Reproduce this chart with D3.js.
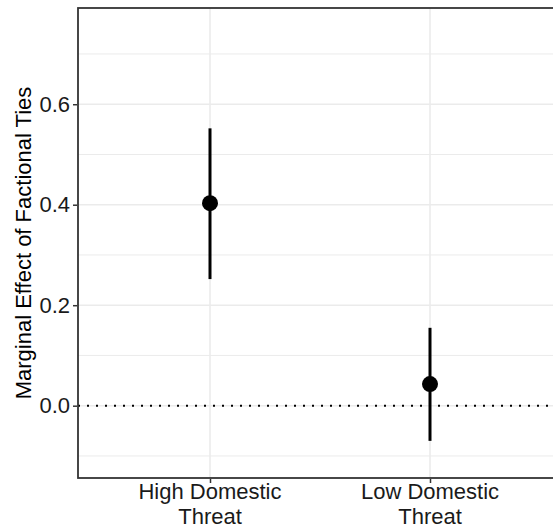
<!DOCTYPE html>
<html>
<head>
<meta charset="utf-8">
<script src="https://cdn.jsdelivr.net/npm/d3@7"></script>
<style>
  body { margin: 0; background: #fff; }
  svg text { font-family: "Liberation Sans", Arial, sans-serif; }
</style>
</head>
<body>
<svg id="chart" width="553" height="531"></svg>
<script>
// data
const categories = ['High Domestic Threat', 'Low Domestic Threat'];
const estimates = [0.403, 0.043];
const lower = [0.252, -0.070];
const upper = [0.552, 0.155];
const yTicks = [0.0, 0.2, 0.4, 0.6];
const yMinor = [-0.1, 0.1, 0.3, 0.5, 0.7];

const svg = d3.select('#chart');
const m = { left: 78, top: 8, right: 562, bottom: 478 };

const x = d3.scalePoint().domain(categories).range([210, 430]);
const y = d3.scaleLinear().domain([-0.1439, 0.7915]).range([m.bottom, m.top]);

const g = svg.append('g');

// panel background + grid
g.append('rect').attr('x', m.left).attr('y', m.top)
  .attr('width', m.right - m.left).attr('height', m.bottom - m.top).attr('fill', '#fff');

g.selectAll('line.minor').data(yMinor).join('line')
  .attr('x1', m.left).attr('x2', m.right)
  .attr('y1', d => y(d)).attr('y2', d => y(d))
  .attr('stroke', '#ebebeb').attr('stroke-width', 1);

g.selectAll('line.major').data(yTicks).join('line')
  .attr('x1', m.left).attr('x2', m.right)
  .attr('y1', d => y(d)).attr('y2', d => y(d))
  .attr('stroke', '#ebebeb').attr('stroke-width', 1.6);

g.selectAll('line.vgrid').data(categories).join('line')
  .attr('x1', d => x(d)).attr('x2', d => x(d))
  .attr('y1', m.top).attr('y2', m.bottom)
  .attr('stroke', '#ebebeb').attr('stroke-width', 1.6);

// zero reference line
g.append('line')
  .attr('x1', m.left).attr('x2', m.right)
  .attr('y1', y(0)).attr('y2', y(0))
  .attr('stroke', '#000').attr('stroke-width', 2)
  .attr('stroke-dasharray', '2,7');

// error bars
const idx = d3.range(categories.length);
g.selectAll('line.ci').data(idx).join('line')
  .attr('x1', i => x(categories[i])).attr('x2', i => x(categories[i]))
  .attr('y1', i => y(lower[i])).attr('y2', i => y(upper[i]))
  .attr('stroke', '#000').attr('stroke-width', 3);

g.selectAll('circle.pt').data(idx).join('circle')
  .attr('cx', i => x(categories[i])).attr('cy', i => y(estimates[i]))
  .attr('r', 8).attr('fill', '#000');

// panel border
g.append('rect').attr('x', m.left).attr('y', m.top)
  .attr('width', m.right - m.left).attr('height', m.bottom - m.top)
  .attr('fill', 'none').attr('stroke', '#333').attr('stroke-width', 1.8);

// y axis
const yAxis = d3.axisLeft(y).tickValues(yTicks).tickFormat(d3.format('.1f'))
  .tickSize(4).tickPadding(3);
const ya = svg.append('g').attr('transform', `translate(${m.left - 1},0)`).call(yAxis);
ya.select('.domain').remove();
ya.selectAll('.tick line').attr('stroke', '#333').attr('stroke-width', 1.5);
ya.selectAll('.tick text').attr('fill', '#1a1a1a').attr('font-size', 22)
  .style('font-family', '"Liberation Sans", Arial, sans-serif');

// x axis
const xAxis = d3.axisBottom(x).tickSize(4).tickPadding(3).tickFormat('');
const xa = svg.append('g').attr('transform', `translate(0,${m.bottom + 1})`).call(xAxis);
xa.select('.domain').remove();
xa.selectAll('.tick line').attr('stroke', '#333').attr('stroke-width', 1.5);

const labelLines = {
  'High Domestic Threat': ['High Domestic', 'Threat'],
  'Low Domestic Threat': ['Low Domestic', 'Threat']
};
categories.forEach(c => {
  const t = svg.append('text').attr('text-anchor', 'middle')
    .attr('font-size', 22).attr('fill', '#1a1a1a');
  labelLines[c].forEach((ln, k) => {
    t.append('tspan').attr('x', x(c)).attr('y', 499 + k * 24.5).text(ln);
  });
});

// y title
svg.append('text')
  .attr('transform', `translate(31,${(m.top + m.bottom) / 2}) rotate(-90)`)
  .attr('text-anchor', 'middle').attr('font-size', 22).attr('fill', '#000')
  .text('Marginal Effect of Factional Ties');
</script>
</body>
</html>
